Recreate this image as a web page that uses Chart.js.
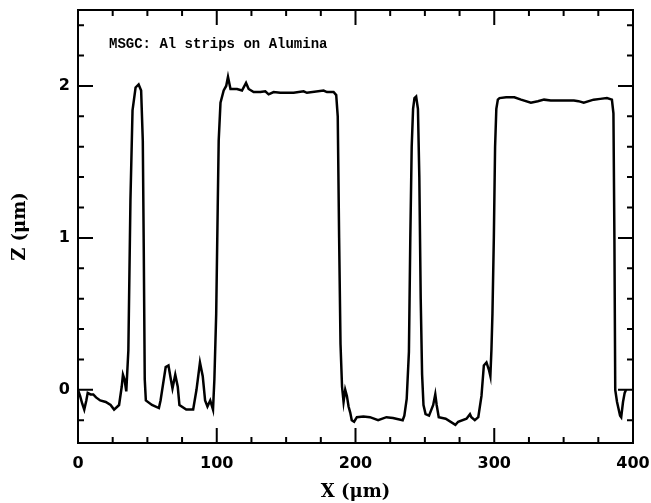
<!DOCTYPE html>
<html>
<head>
<meta charset="utf-8">
<script src="https://cdn.jsdelivr.net/npm/chart.js@4.4.0/dist/chart.umd.min.js"></script>
<style>
  body { margin: 0; background: #fff; }
  canvas { display: block; }
</style>
</head>
<body>
<canvas id="profile" width="651" height="503"></canvas>
<script>
// surface profile: position (um) and height (um)
var profileX = [0, 1.5, 3, 4.5, 6, 7, 9, 11, 13, 16, 20, 23.5, 26, 29.6, 31.5, 32.4, 33.5, 34.8,
    36.3, 37.8, 39.3, 41.5, 43.7, 45.5, 46.7, 47.4, 48.1, 48.9, 53.3, 58.3, 59.5, 63.2, 65.2,
    66.9, 68.1, 70.1, 71.9, 73.1, 78, 83, 85.4, 87.9, 89.9, 91.6, 93.3, 95.3, 97.3, 98.3, 99.6,
    100.7, 101.4, 102.7, 105, 106.8, 108.1, 109.9, 114.6, 118.2, 121.1, 123, 126.6, 131.4, 135,
    137.4, 141, 145.8, 155.4, 162.6, 165, 177, 179.4, 184.2, 186.1, 187.2, 188.2, 189.2, 190.3,
    191.4, 192.6, 193.8, 195, 196.2, 197.3, 199, 201, 205.7, 210.4, 216.3, 222.3, 227, 234,
    235.2, 236.9, 238.5, 239.5, 240.5, 241.5, 242.5, 243.7, 245, 246, 247, 248, 249, 250.5,
    253, 256, 257.5, 258.5, 260, 265, 272, 274, 280, 282.5, 283.5, 286, 288.5, 290.8, 292.5,
    294.4, 296.2, 297.2, 298, 298.7, 299.7, 300.6, 301.5, 302.6, 303.8, 308.6, 314.5, 319.3,
    326.4, 331.4, 335.9, 340.7, 347.9, 357.4, 360.7, 364.5, 371.6, 376.4, 381.2, 384.8, 385.9,
    386.6, 387.2, 388.5, 390.7, 391.5, 392.8, 394, 395];
var profileZ = [0.0, -0.04, -0.09, -0.13, -0.07, -0.02, -0.03, -0.03, -0.05, -0.07, -0.08, -0.1,
    -0.13, -0.1, 0.02, 0.1, 0.07, -0.01,
    0.26, 1.25, 1.84, 1.99, 2.01, 1.97, 1.64, 0.92, 0.07, -0.07, -0.1, -0.12, -0.07, 0.15, 0.16,
    0.07, 0.01, 0.1, 0.02, -0.1, -0.13, -0.13, 0, 0.18, 0.09, -0.07, -0.11, -0.07, -0.13, 0.07, 0.5,
    1.2, 1.64, 1.89, 1.97, 2.0, 2.06, 1.98, 1.98, 1.97, 2.02, 1.98, 1.96, 1.96, 1.965,
    1.945, 1.96, 1.955, 1.955, 1.965, 1.955, 1.97, 1.96, 1.96, 1.94, 1.8, 1.0, 0.3, 0.02,
    -0.08, 0.0, -0.04, -0.11, -0.15, -0.2, -0.21, -0.18, -0.175, -0.18, -0.2, -0.18, -0.185, -0.2,
    -0.17, -0.06, 0.25, 1.0, 1.6, 1.85, 1.92, 1.93, 1.85, 1.4, 0.6, 0.1, -0.1, -0.16,
    -0.17, -0.1, -0.03, -0.1, -0.18, -0.19, -0.23, -0.21, -0.19, -0.16, -0.18, -0.2, -0.18, -0.04, 0.16,
    0.18, 0.13, 0.09, 0.27, 0.5, 1.0, 1.6, 1.85, 1.91, 1.92, 1.925, 1.925, 1.91,
    1.89, 1.9, 1.91, 1.905, 1.905, 1.905, 1.9, 1.89, 1.91, 1.915, 1.92, 1.91, 1.82,
    1.0, 0.0, -0.08, -0.17, -0.18, -0.08, -0.02, 0.0];

var xTicks = [0, 100, 200, 300, 400];
var xMinor = [25, 50, 75, 125, 150, 175, 225, 250, 275, 325, 350, 375];
var zTicks = [0, 1, 2];
var zMinor = [-0.2, 0.2, 0.4, 0.6, 0.8, 1.2, 1.4, 1.6, 1.8, 2.2, 2.4];

var points = profileX.map(function (x, i) {
    return { x: x, y: profileZ[i] };
});

// frame round the plot with ticks pointing inwards, on all four sides
var frameTicks = {
    id: 'frameTicks',
    afterDraw: function (chart) {
        var ctx = chart.ctx;
        var a = chart.chartArea;
        var sx = chart.scales.x, sy = chart.scales.y;
        ctx.save();
        ctx.strokeStyle = '#000';
        ctx.lineWidth = 2;
        ctx.strokeRect(a.left, a.top, a.right - a.left, a.bottom - a.top);
        ctx.beginPath();
        function xt(v, len) {
            var px = sx.getPixelForValue(v);
            ctx.moveTo(px, a.bottom); ctx.lineTo(px, a.bottom - len);
            ctx.moveTo(px, a.top); ctx.lineTo(px, a.top + len);
        }
        function yt(v, len) {
            var py = sy.getPixelForValue(v);
            ctx.moveTo(a.left, py); ctx.lineTo(a.left + len, py);
            ctx.moveTo(a.right, py); ctx.lineTo(a.right - len, py);
        }
        xTicks.forEach(function (v) { xt(v, 15); });
        xMinor.forEach(function (v) { xt(v, 6); });
        zTicks.forEach(function (v) { yt(v, 15); });
        zMinor.forEach(function (v) { yt(v, 6); });
        ctx.stroke();

        ctx.fillStyle = '#000';
        ctx.font = 'bold 14px "Liberation Mono"';
        ctx.textBaseline = 'alphabetic';
        ctx.fillText('MSGC: Al strips on Alumina', a.left + 31, a.top + 38);
        ctx.restore();
    }
};

// keep the plot box where the scan has it, no extra room for edge labels
function noEdgePadding(s) {
    s.paddingLeft = 0;
    s.paddingRight = 0;
    s.paddingTop = 0;
    s.paddingBottom = 0;
}

var tickFont = { family: 'DejaVu Sans', size: 16, weight: 'bold' };
var titleFont = { family: 'DejaVu Serif', size: 18, weight: 'bold' };

new Chart(document.getElementById('profile'), {
    type: 'scatter',
    data: {
        datasets: [{
            data: points,
            showLine: true,
            borderColor: '#000',
            borderWidth: 2.5,
            pointRadius: 0,
            tension: 0
        }]
    },
    options: {
        responsive: false,
        animation: false,
        layout: { padding: { top: 10, right: 18, left: 0, bottom: 0 } },
        plugins: {
            legend: { display: false },
            tooltip: { enabled: false }
        },
        scales: {
            x: {
                type: 'linear',
                min: 0,
                max: 400,
                afterBuildTicks: function (s) { s.ticks = xTicks.map(function (v) { return { value: v }; }); },
                afterFit: function (s) { s.height = 60; noEdgePadding(s); },
                grid: { display: false, drawTicks: false },
                border: { display: false },
                ticks: { padding: 11, color: '#000', font: tickFont, maxRotation: 0 },
                title: { display: true, text: 'X (μm)', color: '#000', font: titleFont, padding: { top: 0, bottom: 0 } }
            },
            y: {
                type: 'linear',
                min: -0.35,
                max: 2.5,
                afterBuildTicks: function (s) { s.ticks = zTicks.map(function (v) { return { value: v }; }); },
                afterFit: function (s) { s.width = 78; noEdgePadding(s); },
                grid: { display: false, drawTicks: false },
                border: { display: false },
                ticks: { padding: 8, color: '#000', font: tickFont },
                title: { display: true, text: 'Z (μm)', color: '#000', font: titleFont, padding: { top: 10, bottom: 0 } }
            }
        }
    },
    plugins: [frameTicks]
});
</script>
</body>
</html>
